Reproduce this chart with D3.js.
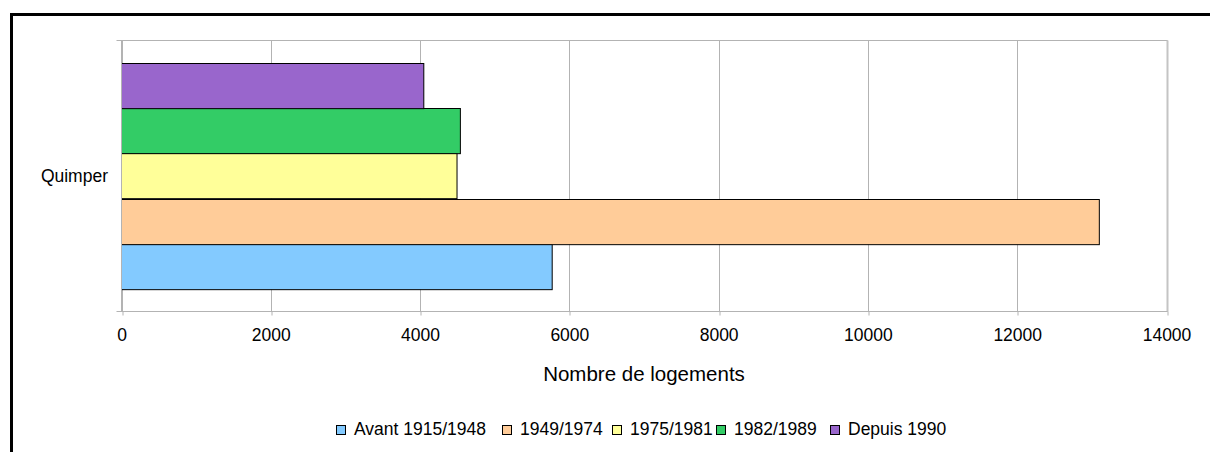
<!DOCTYPE html>
<html>
<head>
<meta charset="utf-8">
<script src="https://cdn.jsdelivr.net/npm/d3@7"></script>
<style>
  html, body { margin: 0; padding: 0; background: #fff; }
  svg { display: block; font-family: "Liberation Sans", Arial, sans-serif; }
</style>
</head>
<body>
<svg id="chart" width="1210" height="452"></svg>
<script>
// Housing stock of Quimper by construction period
const categories = ["Quimper"];
const periods = ["Avant 1915/1948", "1949/1974", "1975/1981", "1982/1989", "Depuis 1990"];
const values = [5770, 13100, 4495, 4540, 4050];
const colors = ["#83caff", "#ffcc99", "#ffff99", "#33cc66", "#9966cc"];
const xTicks = [0, 2000, 4000, 6000, 8000, 10000, 12000, 14000];
const xTitle = "Nombre de logements";

(function draw() {
  const svg = d3.select("#chart");
  const W = 1210, H = 452;
  const plotL = 121.5, plotR = 1166.5, plotT = 40.5, plotB = 311.5;
  const gridColor = "#b3b3b3";

  // outer frame (runs off the right and bottom edges)
  svg.append("rect")
    .attr("x", 11.5).attr("y", 14.5)
    .attr("width", W + 20).attr("height", H + 20)
    .attr("fill", "none").attr("stroke", "#000").attr("stroke-width", 3);

  const x = d3.scaleLinear().domain([0, 14000]).range([plotL, plotR]);

  const y = d3.scaleBand().domain(categories).range([plotT, plotB])
    .paddingInner(0).paddingOuter(0.1);

  // bars stacked from the bottom upward: first period at the bottom
  const ySeries = d3.scaleBand().domain(d3.range(periods.length).reverse())
    .range([0, y.bandwidth()]);

  // vertical grid lines
  svg.append("g").selectAll("line").data(xTicks).join("line")
    .attr("x1", d => Math.round(x(d)) + 0.5).attr("x2", d => Math.round(x(d)) + 0.5)
    .attr("y1", plotT).attr("y2", plotB)
    .attr("stroke", gridColor).attr("stroke-width", 1);

  // plot frame: top edge and heavier right edge
  svg.append("line").attr("x1", plotL - 5).attr("x2", plotR + 1)
    .attr("y1", plotT).attr("y2", plotT).attr("stroke", gridColor);
  svg.append("line").attr("x1", plotR + 1).attr("x2", plotR + 1)
    .attr("y1", plotT).attr("y2", plotB)
    .attr("stroke", "#c4c4c4").attr("stroke-width", 2);

  // bars
  const g = svg.append("g");
  categories.forEach(cat => {
    g.selectAll("rect").data(values).join("rect")
      .attr("x", x(0))
      .attr("y", (d, i) => Math.round(y(cat) + ySeries(i)) + 0.5)
      .attr("width", d => x(d) - x(0))
      .attr("height", ySeries.bandwidth())
      .attr("fill", (d, i) => colors[i])
      .attr("stroke", "#000").attr("stroke-width", 1);
  });

  // x axis
  const xAxis = d3.axisBottom(x).tickValues(xTicks).tickSize(4).tickPadding(13)
    .tickFormat(d3.format("d"));
  const gx = svg.append("g").attr("transform", `translate(0,${plotB})`).call(xAxis);
  gx.select(".domain").attr("stroke", gridColor).attr("d", `M${plotL - 5},0H${plotR + 1}`);
  gx.selectAll(".tick line").attr("stroke", gridColor)
    .attr("transform", d => `translate(${Math.round(x(d)) + 0.5 - x(d)},0)`);
  gx.selectAll(".tick text").attr("font-size", 17.5).attr("fill", "#000")
    .attr("font-family", "Liberation Sans, Arial, sans-serif");

  // y axis line and category label
  svg.append("line").attr("x1", plotL).attr("x2", plotL)
    .attr("y1", plotT).attr("y2", plotB).attr("stroke", gridColor);
  svg.selectAll("text.cat").data(categories).join("text")
    .attr("class", "cat")
    .attr("x", 108).attr("y", d => y(d) + y.bandwidth() / 2 + 6)
    .attr("text-anchor", "end").attr("font-size", 17.5).attr("fill", "#000")
    .text(d => d);

  // axis title
  svg.append("text")
    .attr("x", (plotL + plotR) / 2).attr("y", 381)
    .attr("text-anchor", "middle").attr("font-size", 20.5).attr("fill", "#000")
    .text(xTitle);

  // legend
  const legendX = [336.5, 502.5, 612.5, 716.5, 830.5];
  const lg = svg.append("g");
  periods.forEach((p, i) => {
    lg.append("rect").attr("x", legendX[i]).attr("y", 425.5)
      .attr("width", 9).attr("height", 9)
      .attr("fill", colors[i]).attr("stroke", "#000").attr("stroke-width", 1);
    lg.append("text").attr("x", legendX[i] + 17.5).attr("y", 435)
      .attr("font-size", 17.5).attr("fill", "#000").text(p);
  });
})();
</script>
</body>
</html>
